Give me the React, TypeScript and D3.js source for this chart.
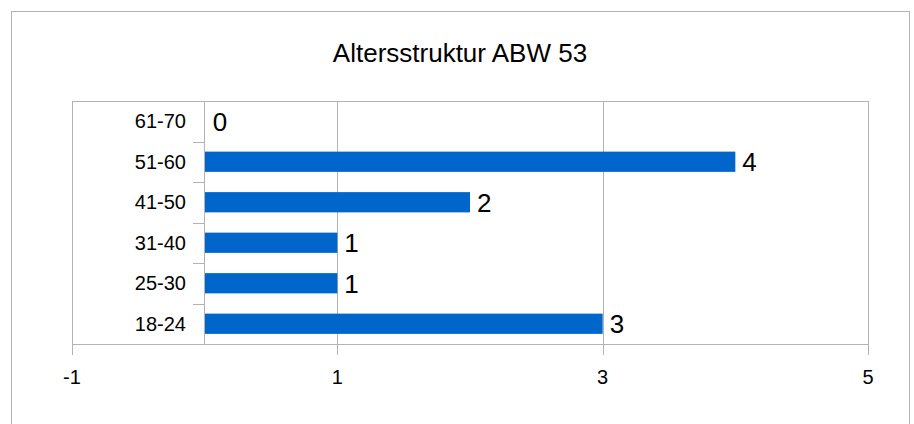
import React from "react";
import * as d3 from "d3";

const title = "Altersstruktur ABW 53";
const categories = ["18-24", "25-30", "31-40", "41-50", "51-60", "61-70"];
const values = [3, 1, 1, 2, 4, 0];
const xTicks = [-1, 1, 3, 5];
const xDomain = [-1, 5];

const W = 914;
const H = 424;
const plot = { left: 72, top: 101, right: 868, bottom: 344 };
const GRID = "#b3b3b3";
const BAR = "#0066cc";
const FONT = "'Liberation Sans', Arial, sans-serif";

export default function App() {
  const x = d3.scaleLinear().domain(xDomain).range([plot.left, plot.right]);
  const order = [...categories].reverse();
  const y = d3
    .scaleBand<string>()
    .domain(order)
    .range([plot.top, plot.bottom])
    .paddingInner(0.5)
    .paddingOuter(0.25);
  const step = y.step();
  const x0 = Math.round(x(0));
  const crisp = (v: number) => Math.round(v) + 0.5;
  const boundaries = d3.range(order.length + 1).map((i) => plot.top + i * step);

  return (
    <svg
      width={W}
      height={H}
      style={{ position: "absolute", left: 0, top: 0, background: "#fff" }}
      fontFamily={FONT}
    >
      <rect x={11.5} y={11.5} width={898} height={430} fill="#fff" stroke={GRID} strokeWidth={1} />
      <text x={460} y={62} textAnchor="middle" fontSize={26} fill="#000">
        {title}
      </text>
      {/* gridlines */}
      {xTicks.map((t) => (
        <line
          key={"g" + t}
          x1={crisp(x(t))}
          x2={crisp(x(t))}
          y1={plot.top}
          y2={plot.bottom}
          stroke={GRID}
        />
      ))}
      {/* plot border */}
      <rect
        x={plot.left + 0.5}
        y={plot.top + 0.5}
        width={plot.right - plot.left}
        height={plot.bottom - plot.top}
        fill="none"
        stroke={GRID}
      />
      {/* category axis line at 0 */}
      <line x1={x0 - 0.5} x2={x0 - 0.5} y1={plot.top} y2={plot.bottom} stroke={GRID} />
      {/* category ticks */}
      {boundaries.map((b, i) => (
        <line key={"ct" + i} x1={x0 - 12} x2={x0} y1={crisp(b)} y2={crisp(b)} stroke={GRID} />
      ))}
      {/* value ticks */}
      {xTicks.map((t) => (
        <line
          key={"vt" + t}
          x1={crisp(x(t))}
          x2={crisp(x(t))}
          y1={plot.bottom}
          y2={plot.bottom + 11}
          stroke={GRID}
        />
      ))}
      {/* bars */}
      {categories.map((c, i) => (
        <rect
          key={"b" + c}
          x={x0}
          y={y(c)!}
          width={Math.max(0, x(values[i]) - x0)}
          height={y.bandwidth()}
          fill={BAR}
        />
      ))}
      {/* data labels */}
      {categories.map((c, i) => (
        <text
          key={"dl" + c}
          x={x(values[i]) + (values[i] === 0 ? 8 : 7)}
          y={y(c)! + y.bandwidth() / 2}
          dy="0.36em"
          fontSize={26}
          fill="#000"
        >
          {values[i]}
        </text>
      ))}
      {/* category labels */}
      {categories.map((c) => (
        <text
          key={"cl" + c}
          x={186}
          y={y(c)! + y.bandwidth() / 2}
          dy="0.36em"
          textAnchor="end"
          fontSize={20}
          fill="#000"
        >
          {c}
        </text>
      ))}
      {/* value tick labels */}
      {xTicks.map((t) => (
        <text key={"vl" + t} x={x(t)} y={384} textAnchor="middle" fontSize={20} fill="#000">
          {t}
        </text>
      ))}
    </svg>
  );
}
